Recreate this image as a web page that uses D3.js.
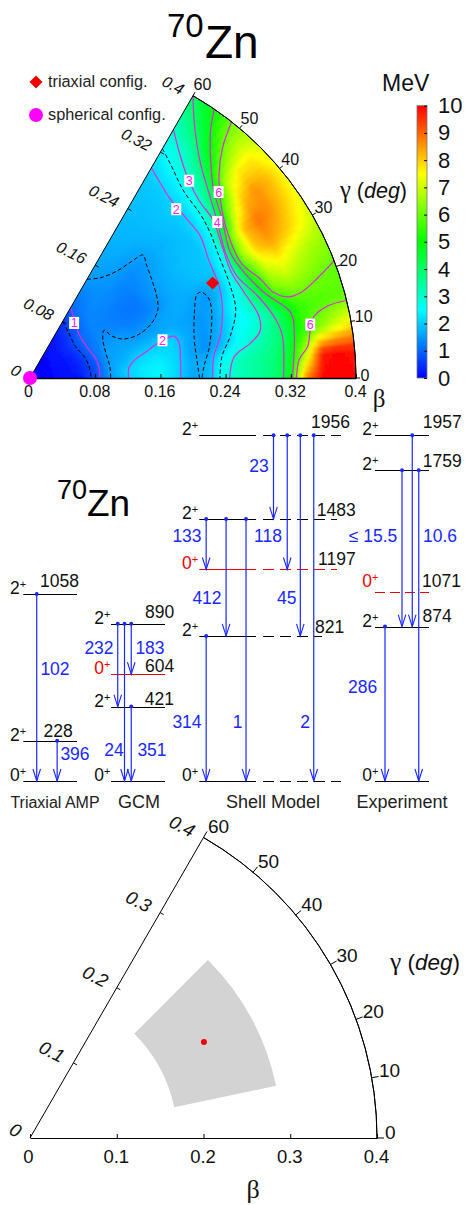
<!DOCTYPE html>
<html>
<head>
<meta charset="utf-8">
<script src="https://cdn.jsdelivr.net/npm/d3@7"></script>
<style>
body { margin: 0; background: #fff; }
svg { display: block; }
text { font-family: "Liberation Sans", Arial, sans-serif; }
</style>
</head>
<body>
<script>
// energy surface in MeV, one row per gamma, one column per beta
var betaGrid = [0, .02, .04, .06, .08, .10, .12, .14, .16, .18, .20, .22, .24, .26, .28, .30, .32, .34, .36, .38, .40];
var gammaGrid = [0, 5, 10, 15, 20, 25, 30, 35, 40, 45, 50, 55, 60];
var energyG0 = [0, .05, .1, .2, .72, 1.55, 1.95, 2.3, 2.45, 2.1, 1.6, 1.85, 2.75, 3.25, 3.5, 3.85, 4.8, 8.8, 10, 10, 10];
var energyG5 = [0, .05, .1, .2, .7, 1.55, 2.05, 2.3, 2.4, 2.15, 1.65, 1.75, 2.65, 3.2, 3.5, 3.8, 4.6, 6.8, 9.8, 10, 9.8];
var energyG10 = [0, .05, .1, .25, .75, 1.55, 1.8, 2.15, 2.25, 2.1, 1.6, 1.4, 1.8, 2.55, 3.05, 3.55, 4.2, 5.4, 6.2, 7, 7.6];
var energyG15 = [0, .05, .1, .25, .8, 1.55, 1.65, 1.85, 1.95, 2.05, 1.65, 1.45, 1.7, 2.35, 2.65, 3.3, 4.4, 5.4, 5.7, 5.8, 5.9];
var energyG20 = [0, .05, .1, .3, .9, 1.55, 1.58, 1.52, 1.6, 1.65, 1.6, 1.45, 1.6, 2.3, 2.9, 4.3, 6.1, 6.5, 6.3, 6.05, 5.9];
var energyG25 = [0, .05, .1, .3, 1, 1.45, 1.5, 1.35, 1.4, 1.6, 1.7, 1.6, 1.45, 1.95, 2.9, 5.3, 7, 7.5, 7, 6.6, 6.4];
var energyG30 = [0, .05, .1, .35, 1, 1.35, 1.3, 1.2, 1.2, 1.4, 1.65, 1.75, 1.85, 1.95, 2.8, 6.4, 8, 8.5, 8.1, 7.6, 7];
var energyG35 = [0, .05, .1, .4, 1.05, 1.3, 1.25, 1.15, 1.15, 1.45, 1.65, 1.8, 1.9, 1.95, 2.45, 6, 8.2, 8.9, 8.6, 8, 7.4];
var energyG40 = [0, .05, .1, .4, 1, 1.3, 1.25, 1.2, 1.2, 1.4, 1.6, 1.75, 1.85, 1.9, 2.3, 3.8, 6.6, 8.1, 8.6, 8.2, 7.5];
var energyG45 = [0, .05, .1, .35, .85, 1.25, 1.3, 1.3, 1.3, 1.35, 1.5, 1.7, 1.8, 1.9, 2.15, 3, 4.5, 6.8, 7.6, 7.7, 7.2];
var energyG50 = [0, .05, .1, .3, .75, 1.2, 1.35, 1.4, 1.45, 1.5, 1.6, 1.75, 1.85, 1.95, 2.1, 2.55, 3.3, 4.65, 5.7, 6.4, 6.5];
var energyG55 = [0, .05, .1, .25, .65, 1.1, 1.25, 1.45, 1.55, 1.65, 1.75, 1.8, 1.85, 1.9, 2, 2.35, 2.8, 3.2, 4.1, 4.7, 5.2];
var energyG60 = [0, .05, .1, .2, .5, 1, 1.25, 1.5, 1.6, 1.7, 1.75, 1.8, 1.85, 1.9, 1.95, 2.1, 2.4, 2.8, 3.15, 3.6, 4];
var energyRows = [energyG0, energyG5, energyG10, energyG15, energyG20, energyG25, energyG30, energyG35, energyG40, energyG45, energyG50, energyG55, energyG60];

// contour lines as [beta, gamma]
var contourHalfA = [[.08, 60], [.073, 49.6], [.068, 35], [.072, 20], [.074, 9.6], [.075, 0]];
var contourOne = [[.10, 60], [.09, 53], [.08, 39.8], [.08, 25.9], [.085, 14], [.086, 0]];
var contourBasin = [[.14, 60], [.15, 55], [.169, 50.9], [.19, 48.9], [.205, 47.4], [.20, 44.6], [.192, 38.9], [.185, 32.8], [.178, 28.2], [.164, 24.3], [.143, 21.8], [.124, 22.7], [.113, 27], [.108, 32.8], [.101, 27.8], [.098, 18.2], [.099, 8.3], [.099, 0]];
var contourTwoLow = [[.121, 0], [.122, 5.8], [.131, 9.9], [.147, 12.9], [.169, 15.9], [.184, 16.2], [.188, 13.3], [.186, 7], [.185, 0]];
var contourIsland = [[.208, 0], [.206, 6.3], [.207, 13.2], [.217, 21.6], [.229, 26.6], [.235, 26.6], [.24, 24.2], [.238, 20.7], [.229, 14], [.222, 9], [.214, 3.9], [.211, 0]];
var contourTwo = [[.298, 60], [.279, 51.9], [.274, 45.3], [.272, 39.8], [.263, 33.6], [.258, 25.9], [.252, 20.5], [.239, 12.4], [.227, 6.7], [.224, 0]];
var contourTwoHalf = [[.325, 60], [.314, 56.7], [.297, 50.6], [.29, 43.9], [.284, 38.9], [.276, 32.9], [.271, 25.6], [.266, 18.4], [.251, 11.8], [.237, 6.4], [.233, 0]];
var contourThree = [[.352, 60], [.329, 55.9], [.311, 51.2], [.30, 45.8], [.297, 41], [.286, 34.5], [.279, 28], [.283, 21.7], [.291, 15.1], [.288, 11.5], [.274, 9], [.252, 6], [.245, 0]];
var contourFour = [[.40, 60], [.373, 57.3], [.337, 51.7], [.316, 46], [.299, 39.7], [.285, 32.7], [.283, 26.2], [.297, 19.8], [.31, 13.4], [.314, 9.4], [.311, 0]];
var contourFive = [[.40, 55.6], [.374, 53.7], [.345, 50], [.323, 45.8], [.306, 39.6], [.29, 32], [.293, 26.2], [.306, 20], [.33, 14], [.329, 9.7], [.322, 0]];
var contourSixUp = [[.40, 51.8], [.367, 50], [.34, 47], [.318, 42.6], [.301, 36.4], [.295, 28.7], [.308, 23.1], [.317, 19.3], [.331, 17.5], [.348, 17.5], [.374, 19.2], [.40, 21.1]];
var contourSixLow = [[.40, 13.8], [.376, 13.6], [.357, 12.3], [.349, 9.8], [.343, 6.5], [.331, 3.9], [.327, 0]];
var solidContours = [contourOne, contourTwoLow, contourTwo, contourThree, contourFour, contourFive, contourSixUp, contourSixLow];
var dashedContours = [contourHalfA, contourBasin, contourIsland, contourTwoHalf];
var contourLabels = [["1", .0866, 51.3], ["2", .169, 15.9], ["2", .274, 49.1], ["3", .311, 51.1], ["4", .299, 39.8], ["6", .325, 44.6], ["6", .35, 10.8]];

var triaxialPoint = [.2526, 27.5];
var rangeBeta = [.17, .29];
var rangeGamma = [12, 45];
var bestPoint = [.229, 28.9];

var topBetaTicks = [.08, .16, .24, .32, .4];
var lowBetaTicks = [.1, .2, .3, .4];
var gammaTicks = [0, 10, 20, 30, 40, 50, 60];
var colorTicks = [0, 1, 2, 3, 4, 5, 6, 7, 8, 9, 10];

// level energies in keV and the transitions between them, with B(E2) labels
var triaxialLevels = [[0, "0", 0], [228, "2", 0], [1058, "2", 0]];
var triaxialTrans = [[1058, 0, "102"], [228, 0, "396"]];
var gcmLevels = [[0, "0", 0], [421, "2", 0], [604, "0", 1], [890, "2", 0]];
var gcmTrans = [[890, 421, "232"], [890, 0, "24"], [890, 604, "183"], [421, 0, "351"]];
var shellLevels = [[0, "0", 0], [821, "2", 0], [1197, "0", 1], [1483, "2", 0], [1956, "2", 0]];
var shellTrans = [[821, 0, "314"], [1483, 1197, "133"], [1483, 821, "412"], [1483, 0, "1"], [1956, 1483, "23"], [1956, 1197, "118"], [1956, 821, "45"], [1956, 0, "2"]];
var expLevels = [[0, "0", 0], [874, "2", 0], [1071, "0", 1], [1759, "2", 0], [1957, "2", 0]];
var expTrans = [[874, 0, "286"], [1759, 874, "\u2264 15.5"], [1957, 874, ""], [1759, 0, "10.6"]];

var width = 466;
var height = 1205;
var blue = "#1a28ff";
var magenta = "#dc2cdc";

var svg = d3.select("body").append("svg")
    .attr("width", width)
    .attr("height", height);

var colorScale = d3.scaleLinear()
    .domain([0, 2.5, 5, 7.5, 10])
    .range(["#0000ff", "#00ffff", "#00ff00", "#ffff00", "#ff0000"])
    .clamp(true);

function polar(rScale, origin, b, g) {
    var a = g * Math.PI / 180;
    return [origin[0] + rScale(b) * Math.cos(a), origin[1] - rScale(b) * Math.sin(a)];
}

// d3.arc counts from 12 o'clock, gamma from 3 o'clock
function arcAngle(g) {
    return (90 - g) * Math.PI / 180;
}

function energyAt(b, g) {
    b = Math.min(Math.max(b, 0), .4);
    g = Math.min(Math.max(g, 0), 60);
    var i = Math.min(Math.floor(b / .02 + 1e-6), betaGrid.length - 2);
    var j = Math.min(Math.floor(g / 5 + 1e-6), gammaGrid.length - 2);
    var tb = (b - betaGrid[i]) / .02;
    var tg = (g - gammaGrid[j]) / 5;
    var lo = d3.interpolateNumber(energyRows[j][i], energyRows[j][i + 1])(tb);
    var hi = d3.interpolateNumber(energyRows[j + 1][i], energyRows[j + 1][i + 1])(tb);
    return d3.interpolateNumber(lo, hi)(tg);
}

// frame shared by the two polar panels
function drawFrame(cfg) {
    var g = svg.append("g");
    var r = cfg.r;
    var o = cfg.origin;
    var maxR = r(.4);
    var apex = polar(r, o, .4, 60);

    g.append("path")
        .attr("transform", "translate(" + o[0] + "," + o[1] + ")")
        .attr("d", d3.arc()({ innerRadius: maxR, outerRadius: maxR, startAngle: arcAngle(60), endAngle: arcAngle(0) }))
        .attr("fill", "none")
        .attr("stroke", "#000")
        .attr("stroke-width", 1);

    g.append("line")
        .attr("x1", o[0]).attr("y1", o[1])
        .attr("x2", apex[0]).attr("y2", apex[1])
        .attr("stroke", "#000").attr("stroke-width", 1);

    // bottom beta axis
    var xScale = d3.scaleLinear().domain([0, .4]).range([o[0], o[0] + maxR]);
    var axis = g.append("g")
        .attr("transform", "translate(0," + o[1] + ")")
        .call(d3.axisBottom(xScale)
            .tickValues([0].concat(cfg.betaTicks))
            .tickSize(-4).tickSizeOuter(0)
            .tickPadding(cfg.xPad)
            .tickFormat(function (d) { return d === 0 ? "0" : String(d); }));
    axis.select(".domain").attr("stroke-width", cfg.baseWidth);
    axis.selectAll("text")
        .style("font-family", '"Liberation Sans", Arial, sans-serif')
        .style("font-size", cfg.font + "px")
        .attr("fill", "#111")
        .attr("dx", function (d) { return d === 0 ? "-2" : "-1"; });

    // beta ticks along the gamma = 60 edge, written in italics
    [0].concat(cfg.betaTicks).forEach(function (t) {
        var p = polar(r, o, t, 60);
        if (t > 0 && t < .4) {
            g.append("line")
                .attr("x1", p[0]).attr("y1", p[1])
                .attr("x2", p[0] + 3.5).attr("y2", p[1] + 2)
                .attr("stroke", "#000");
        }
        g.append("text")
            .attr("transform", "translate(" + (p[0] - 10) + "," + (p[1] - 5.5) + ") rotate(27)")
            .attr("text-anchor", "end")
            .attr("dy", ".35em")
            .attr("font-size", cfg.font)
            .attr("font-style", "italic")
            .attr("fill", "#111")
            .text(t === 0 ? "0" : String(t));
    });

    // gamma ticks on the arc
    gammaTicks.forEach(function (t) {
        var p0 = polar(r, o, .4, t);
        var p1 = polar(r, o, .4 * (1 + cfg.tickLen / maxR), t);
        var s = Math.sin(t * Math.PI / 180);
        g.append("line")
            .attr("x1", p0[0]).attr("y1", p0[1])
            .attr("x2", p1[0]).attr("y2", p1[1])
            .attr("stroke", "#000");
        g.append("text")
            .attr("x", p0[0] + cfg.gx[0] + cfg.gx[1] * s)
            .attr("y", p0[1] + cfg.gy[0] + cfg.gy[1] * s)
            .attr("dy", ".35em")
            .attr("font-size", cfg.gFont)
            .attr("fill", "#111")
            .text(t);
    });

    var gl = g.append("text")
        .attr("x", cfg.gammaLabel[0])
        .attr("y", cfg.gammaLabel[1])
        .attr("font-size", cfg.labelFont)
        .attr("fill", "#111");
    gl.append("tspan").style("font-family", '"Liberation Serif", serif').attr("font-size", cfg.labelFont + 3).text("\u03b3");
    gl.append("tspan").text(" (");
    gl.append("tspan").attr("font-style", "italic").text("deg");
    gl.append("tspan").text(")");

    g.append("text")
        .attr("x", cfg.betaLabel[0])
        .attr("y", cfg.betaLabel[1])
        .attr("text-anchor", "middle")
        .attr("font-size", cfg.betaLabel[2])
        .attr("fill", "#111")
        .style("font-family", '"Liberation Serif", serif')
        .text("\u03b2");
}

function nucleusTitle(x1, x2, y1, y2, f1, f2) {
    svg.append("text").attr("x", x1).attr("y", y1).attr("font-size", f1).text("70");
    svg.append("text").attr("x", x2).attr("y", y2).attr("font-size", f2).text("Zn");
}

/* ---------- top panel: energy surface ---------- */
nucleusTitle(167, 205, 37, 58, 33, 46);

var topOrigin = [30, 378];
var topR = d3.scaleLinear().domain([0, .4]).range([0, 326]);

var defs = svg.append("defs");
defs.append("filter")
    .attr("id", "soften")
    .attr("filterUnits", "userSpaceOnUse")
    .attr("x", -40).attr("y", -340).attr("width", 440).attr("height", 400)
    .append("feGaussianBlur")
    .attr("stdDeviation", 1.6);

var clip = svg.append("clipPath").attr("id", "sector");
clip.append("path")
    .attr("transform", "translate(" + topOrigin + ")")
    .attr("d", d3.arc()({ innerRadius: 0, outerRadius: topR(.4), startAngle: arcAngle(60), endAngle: arcAngle(0) }));

// cells run a little past the sector so the softening stays even at its edges
var heat = svg.append("g").attr("clip-path", "url(#sector)")
    .append("g").attr("transform", "translate(" + topOrigin + ")")
    .attr("filter", "url(#soften)");
var cellArc = d3.arc();
var cellB = .004;
var cellG = 1.25;
var cells = [];
d3.range(0, 110).forEach(function (i) {
    d3.range(-8, 56).forEach(function (j) {
        cells.push({ b: i * cellB, g: j * cellG });
    });
});
heat.selectAll("path")
    .data(cells)
    .join("path")
    .attr("d", function (d) {
        return cellArc({
            innerRadius: topR(d.b),
            outerRadius: topR(d.b + cellB),
            startAngle: arcAngle(d.g + cellG),
            endAngle: arcAngle(d.g)
        });
    })
    .attr("fill", function (d) { return colorScale(energyAt(d.b + cellB / 2, d.g + cellG / 2)); })
    .attr("stroke", function (d) { return colorScale(energyAt(d.b + cellB / 2, d.g + cellG / 2)); })
    .attr("stroke-width", .7);

var contourLine = d3.line()
    .x(function (d) { return polar(topR, topOrigin, d[0], d[1])[0]; })
    .y(function (d) { return polar(topR, topOrigin, d[0], d[1])[1]; })
    .curve(d3.curveCatmullRom.alpha(.5));

svg.append("g").selectAll("path")
    .data(solidContours)
    .join("path")
    .attr("d", contourLine)
    .attr("fill", "none")
    .attr("stroke", magenta)
    .attr("stroke-width", 1.2);

svg.append("g").selectAll("path")
    .data(dashedContours)
    .join("path")
    .attr("d", contourLine)
    .attr("fill", "none")
    .attr("stroke", "#000")
    .attr("stroke-width", 1)
    .attr("stroke-dasharray", "4 2.5");

var cl = svg.append("g").selectAll("g")
    .data(contourLabels)
    .join("g")
    .attr("transform", function (d) { return "translate(" + polar(topR, topOrigin, d[1], d[2]) + ")"; });
cl.append("rect").attr("x", -5).attr("y", -6).attr("width", 10).attr("height", 12).attr("fill", "#fff");
cl.append("text")
    .attr("text-anchor", "middle").attr("dy", ".36em")
    .attr("font-size", 12.5).attr("fill", "#ff20ff")
    .text(function (d) { return d[0]; });

drawFrame({
    r: topR, origin: topOrigin, betaTicks: topBetaTicks, xPad: 8, baseWidth: 1.5,
    font: 16, gFont: 16, tickLen: 4, gx: [4.5, -4.5], gy: [-3, -9.5],
    labelFont: 21.5, gammaLabel: [340, 198], betaLabel: [379, 407, 25]
});

var diamond = d3.symbol().type(d3.symbolSquare).size(85);
svg.append("path")
    .attr("d", diamond())
    .attr("transform", "translate(" + polar(topR, topOrigin, triaxialPoint[0], triaxialPoint[1]) + ") rotate(45)")
    .attr("fill", "#f00000");
svg.append("circle")
    .attr("cx", polar(topR, topOrigin, 0, 0)[0]).attr("cy", polar(topR, topOrigin, 0, 0)[1])
    .attr("r", 7).attr("fill", "#ff00ff");

// legend
svg.append("path").attr("d", diamond()).attr("transform", "translate(36,82) rotate(45)").attr("fill", "#f00000");
svg.append("circle").attr("cx", 36).attr("cy", 115).attr("r", 7).attr("fill", "#ff00ff");
svg.append("text").attr("x", 48).attr("y", 87).attr("font-size", 16.3).attr("fill", "#222").text("triaxial config.");
svg.append("text").attr("x", 48).attr("y", 120).attr("font-size", 16.3).attr("fill", "#222").text("spherical config.");

// colour bar
var barScale = d3.scaleLinear().domain([0, 10]).range([378, 105.7]);
var grad = defs.append("linearGradient")
    .attr("id", "barGrad").attr("x1", 0).attr("x2", 0).attr("y1", 1).attr("y2", 0);
grad.selectAll("stop")
    .data(colorScale.domain())
    .join("stop")
    .attr("offset", function (d) { return d / 10; })
    .attr("stop-color", function (d) { return colorScale(d); });
svg.append("rect")
    .attr("x", 417).attr("y", barScale(10))
    .attr("width", 10).attr("height", barScale(0) - barScale(10))
    .attr("fill", "url(#barGrad)")
    .attr("stroke", "#777").attr("stroke-width", .8);
var barAxis = svg.append("g")
    .attr("transform", "translate(427,0)")
    .call(d3.axisRight(barScale).tickValues(colorTicks).tickSize(-3).tickSizeOuter(0).tickPadding(11));
barAxis.select(".domain").remove();
barAxis.selectAll("text")
    .style("font-family", '"Liberation Sans", Arial, sans-serif')
    .style("font-size", "22px")
    .attr("fill", "#111");
svg.append("text").attr("x", 382).attr("y", 91).attr("font-size", 23).attr("fill", "#111").text("MeV");

/* ---------- middle panel: level schemes ---------- */
nucleusTitle(57, 87, 499, 516, 27, 37);

var yLevel = d3.scaleLinear().domain([0, 2000]).range([781, 427.6]);

var panels = [
    { levels: triaxialLevels, trans: triaxialTrans, range: [23.3, 77], spinX: 10, title: "Triaxial AMP", titleX: 55, titleFont: 16,
      slots: [.25, .63],
      labels: [[55, 669], [75, 754]],
      energy: { 228: [72.7, 736.7], 1058: [79, 587] } },
    { levels: gcmLevels, trans: gcmTrans, range: [111, 165], spinX: 94.3, title: "GCM", titleX: 139, titleFont: 18,
      slots: [.125, .25, .375, .375],
      labels: [[99, 648], [114, 750], [150, 648], [152, 750]],
      energy: { 421: [174, 705], 604: [174.3, 672], 890: [174.3, 618.3] } },
    { levels: shellLevels, trans: shellTrans, range: [199.3, 336.7], spinX: 182, title: "Shell Model", titleX: 273, titleFont: 18, solidTo: 256,
      dashEnd: { 0: 341, 821: 322, 1197: 337, 1483: 337, 1956: 341 },
      slots: [.05, .05, .195, .34, .54, .64, .735, .833],
      labels: [[187, 721.7], [187, 535.7], [207, 598], [237.7, 721.7], [259, 466], [268, 536], [286.7, 598], [305, 721.7]],
      energy: { 821: [344.3, 632.7], 1197: [355.7, 565], 1483: [355.7, 516], 1956: [350, 428] } },
    { levels: expLevels, trans: expTrans, range: [375, 429], spinX: 362.3, title: "Experiment", titleX: 402, titleFont: 18, dashed: [1071],
      slots: [.185, .5, .69, .81],
      labels: [[362.7, 687], [373, 536], [0, 0], [440, 536]],
      energy: { 874: [451.7, 621.7], 1071: [461, 586.7], 1759: [461.7, 467], 1957: [461.7, 428] } }
];

panels.forEach(function (panel) {
    var g = svg.append("g");
    var xSlot = d3.scaleLinear().domain([0, 1]).range(panel.range);

    panel.levels.forEach(function (lev) {
        var y = Math.round(yLevel(lev[0])) + .5;
        var color = lev[2] ? "#f00000" : "#000";
        if (panel.solidTo) {
            g.append("line").attr("x1", panel.range[0]).attr("x2", panel.solidTo)
                .attr("y1", y).attr("y2", y).attr("stroke", color);
            g.append("line").attr("x1", panel.solidTo + 7).attr("x2", panel.dashEnd[lev[0]])
                .attr("y1", y).attr("y2", y).attr("stroke", color)
                .attr("stroke-dasharray", "11 6");
        } else {
            g.append("line").attr("x1", panel.range[0]).attr("x2", panel.range[1])
                .attr("y1", y).attr("y2", y).attr("stroke", color)
                .attr("stroke-dasharray", panel.dashed && panel.dashed.indexOf(lev[0]) >= 0 ? "10 5" : null);
        }

        // spin label with a raised plus
        var isExpZero = panel.dashed && panel.dashed.indexOf(lev[0]) >= 0;
        var spin = g.append("text")
            .attr("x", panel.spinX)
            .attr("y", yLevel(lev[0]) - (isExpZero ? 5 : 0))
            .attr("font-size", 17.5)
            .attr("fill", lev[2] ? "#f00000" : "#111");
        spin.append("tspan").text(lev[1]);
        spin.append("tspan").attr("font-size", 11).attr("dy", -6).text("+");

        var pos = panel.energy[lev[0]];
        if (pos) {
            g.append("text")
                .attr("x", pos[0]).attr("y", pos[1])
                .attr("text-anchor", "end")
                .attr("font-size", 17.5)
                .attr("fill", "#111")
                .text(lev[0]);
        }
    });

    panel.trans.forEach(function (t, i) {
        var x = xSlot(panel.slots[i]);
        var y0 = yLevel(t[0]);
        var y1 = yLevel(t[1]);
        var head = d3.path();
        head.moveTo(x - 3.8, y1 - 12);
        head.lineTo(x, y1);
        head.lineTo(x + 3.8, y1 - 12);
        g.append("line").attr("x1", x).attr("x2", x).attr("y1", y0).attr("y2", y1)
            .attr("stroke", blue).attr("stroke-width", 1.2);
        g.append("path").attr("d", head.toString()).attr("fill", "none")
            .attr("stroke", blue).attr("stroke-width", 1.1);
        g.append("circle").attr("cx", x).attr("cy", y0).attr("r", 2).attr("fill", blue);
        if (t[2]) {
            g.append("text")
                .attr("x", panel.labels[i][0]).attr("y", panel.labels[i][1])
                .attr("dy", ".35em")
                .attr("text-anchor", "middle")
                .attr("font-size", 17.5)
                .attr("fill", blue)
                .text(t[2]);
        }
    });

    g.append("text")
        .attr("x", panel.titleX).attr("y", 808)
        .attr("text-anchor", "middle")
        .attr("font-size", panel.titleFont)
        .attr("fill", "#222")
        .text(panel.title);
});

/* ---------- bottom panel: sampled region ---------- */
var lowOrigin = [30, 1138];
var lowR = d3.scaleLinear().domain([0, .4]).range([0, 347]);

svg.append("path")
    .attr("transform", "translate(" + lowOrigin + ")")
    .attr("d", d3.arc()({
        innerRadius: lowR(rangeBeta[0]),
        outerRadius: lowR(rangeBeta[1]),
        startAngle: arcAngle(rangeGamma[1]),
        endAngle: arcAngle(rangeGamma[0])
    }))
    .attr("fill", "#d3d3d3");

svg.append("circle")
    .attr("cx", polar(lowR, lowOrigin, bestPoint[0], bestPoint[1])[0])
    .attr("cy", polar(lowR, lowOrigin, bestPoint[0], bestPoint[1])[1])
    .attr("r", 3)
    .attr("fill", "#f00000");

drawFrame({
    r: lowR, origin: lowOrigin, betaTicks: lowBetaTicks, xPad: 12, baseWidth: 1,
    font: 18.5, gFont: 19, tickLen: 7, gx: [8, -4], gy: [-6, -6.5],
    labelFont: 22.5, gammaLabel: [390, 970], betaLabel: [253, 1198, 26]
});
</script>
</body>
</html>
